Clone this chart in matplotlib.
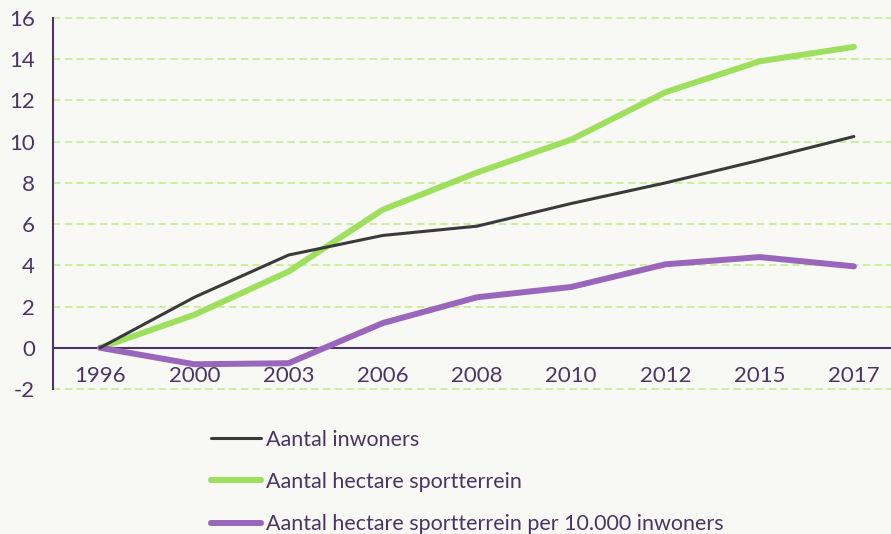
import matplotlib.pyplot as plt
import numpy as np

plt.rcParams['font.family'] = ['Lato', 'DejaVu Sans']

years = ['1996', '2000', '2003', '2006', '2008', '2010', '2012', '2015', '2017']
inwoners = [0, 2.45, 4.5, 5.45, 5.9, 7.0, 8.0, 9.1, 10.25]
sportterrein = [0, 1.6, 3.7, 6.7, 8.5, 10.1, 12.4, 13.9, 14.6]
per_10000 = [0, -0.8, -0.75, 1.2, 2.45, 2.95, 4.05, 4.4, 3.95]
yticks = [-2, 0, 2, 4, 6, 8, 10, 12, 14, 16]

bg = '#f8f8f4'
txt = '#4b3566'

fig = plt.figure(figsize=(8.91, 5.34), dpi=100, facecolor=bg)
ax = fig.add_axes([53 / 891, 145 / 534, 848 / 891, 371 / 534])
ax.set_facecolor(bg)

x = np.arange(len(years))
ax.plot(x, inwoners, color='#3a3a3a', lw=2.2, solid_capstyle='round',
        label='Aantal inwoners', zorder=4)
ax.plot(x, sportterrein, color='#9edf5e', lw=4.3, solid_capstyle='round',
        label='Aantal hectare sportterrein', zorder=3)
ax.plot(x, per_10000, color='#9966bb', lw=4.3, solid_capstyle='round',
        label='Aantal hectare sportterrein per 10.000 inwoners', zorder=3)

ax.set_xlim(-0.5, len(years) - 0.5)
ax.set_ylim(-2, 16)

# dashed gridlines, skip zero (solid axis line there)
for v in yticks:
    if v != 0:
        ax.axhline(v, color='#c3f191', lw=1.3, ls=(0, (4, 2.5)), zorder=1,
                   clip_on=False)
ax.axhline(0, color=txt, lw=1.5, zorder=2)

for s in ['top', 'right', 'bottom']:
    ax.spines[s].set_visible(False)
ax.spines['left'].set_color(txt)
ax.spines['left'].set_linewidth(1.5)

ax.set_yticks(yticks)
ax.set_yticklabels([str(v) for v in yticks])
ax.tick_params(axis='y', length=0, pad=13, labelsize=16, labelcolor=txt)

ax.set_xticks([])
for i, yr in enumerate(years):
    ax.text(i, -1.35, yr, ha='center', va='center', fontsize=16, color=txt)

fig.legend(loc='upper left', bbox_to_anchor=(202 / 891, 1 - 421 / 534),
           frameon=False, fontsize=15.5, handlelength=2.35, handletextpad=0.2,
           labelspacing=1.04, labelcolor=txt, borderaxespad=0)

fig.savefig('out.png', dpi=100, facecolor=bg)
